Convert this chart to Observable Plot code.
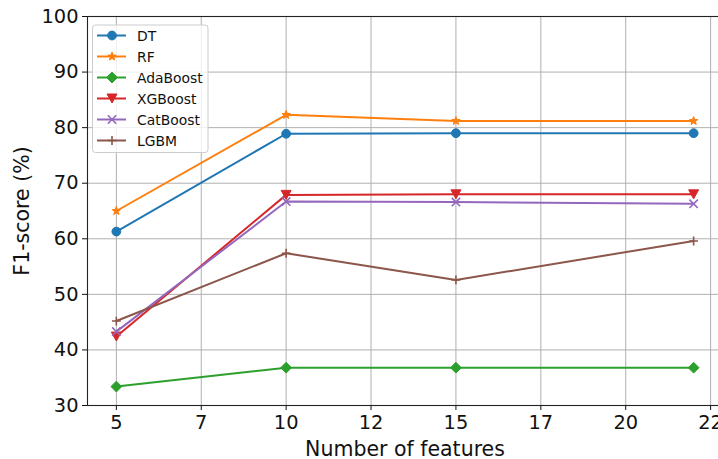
<!DOCTYPE html>
<html>
<head>
<meta charset="utf-8">
<script src="https://cdn.jsdelivr.net/npm/d3@7"></script>
<script src="https://cdn.jsdelivr.net/npm/@observablehq/plot@0.6"></script>
<style>
  html, body { margin: 0; padding: 0; background: #fff; overflow: hidden; }
  #chart svg { display: block; max-width: none !important; height: 459px !important; }
</style>
</head>
<body>
<div id="chart"></div>
<script>
// ---- data ----
const features = [5, 10, 15, 22];
const models = ["DT", "RF", "AdaBoost", "XGBoost", "CatBoost", "LGBM"];
const DT       = [61.3, 78.9, 79.0, 79.0];
const RF       = [65.0, 82.3, 81.2, 81.2];
const AdaBoost = [33.4, 36.8, 36.8, 36.8];
const XGBoost  = [42.4, 67.9, 68.0, 68.0];
const CatBoost = [43.3, 66.7, 66.6, 66.3];
const LGBM     = [45.2, 57.4, 52.6, 59.6];
const xTicks = [5, 7.5, 10, 12.5, 15, 17.5, 20, 22.5];
const yTicks = [30, 40, 50, 60, 70, 80, 90, 100];

// ---- symbols (r = half extent) ----
const sym = (fn) => ({ draw(ctx, size) { fn(ctx, Math.sqrt(size / Math.PI)); } });
const symbols = {
  circle: sym((c, r) => { c.moveTo(r, 0); c.arc(0, 0, r, 0, 2 * Math.PI); c.closePath(); }),
  star: sym((c, r) => {
    const ri = r * 0.42;
    for (let k = 0; k < 10; k++) {
      const a = -Math.PI / 2 + k * Math.PI / 5, rr = k % 2 ? ri : r;
      const px = rr * Math.cos(a), py = rr * Math.sin(a);
      k ? c.lineTo(px, py) : c.moveTo(px, py);
    }
    c.closePath();
  }),
  diamond: sym((c, r) => { c.moveTo(0, -r); c.lineTo(r, 0); c.lineTo(0, r); c.lineTo(-r, 0); c.closePath(); }),
  triDown: sym((c, r) => { c.moveTo(-r, -r * 0.9); c.lineTo(r, -r * 0.9); c.lineTo(0, r * 0.9); c.closePath(); }),
  times: sym((c, r) => { c.moveTo(-r, -r); c.lineTo(r, r); c.moveTo(-r, r); c.lineTo(r, -r); }),
  plus: sym((c, r) => { c.moveTo(-r, 0); c.lineTo(r, 0); c.moveTo(0, -r); c.lineTo(0, r); })
};

const values = {DT, RF, AdaBoost, XGBoost, CatBoost, LGBM};
const colors = ["#1f77b4", "#ff7f0e", "#2ca02c", "#d62728", "#9467bd", "#8c564b"];
const symNames = ["circle", "star", "diamond", "triDown", "times", "plus"];
const radii = [4.4, 4.4, 5.4, 5.0, 4.2, 4.4];
const filled = [true, true, true, true, false, false];

const rows = models.flatMap((m) => features.map((x, i) => ({model: m, x, y: values[m][i]})));

const marks = [
  Plot.gridX(xTicks, {stroke: "#b0b0b0", strokeOpacity: 1, strokeWidth: 1}),
  Plot.gridY(yTicks, {stroke: "#b0b0b0", strokeOpacity: 1, strokeWidth: 1})
];
models.forEach((m, i) => {
  const d = rows.filter((r) => r.model === m);
  marks.push(Plot.line(d, {x: "x", y: "y", stroke: colors[i], strokeWidth: 2}));
  marks.push(Plot.dot(d, {
    x: "x", y: "y", symbol: symbols[symNames[i]], r: radii[i],
    fill: filled[i] ? colors[i] : "none", stroke: colors[i], strokeWidth: filled[i] ? 1 : 1.6
  }));
});
marks.push(
  Plot.axisX(xTicks, {tickSize: 5, tickPadding: 5, fontSize: 19.4, tickFormat: (d) => String(Math.floor(d)), label: null}),
  Plot.axisY(yTicks, {tickSize: 5, tickPadding: 4, fontSize: 19.4, label: null}),
  Plot.axisX({label: "Number of features", labelAnchor: "center", labelArrow: "none", labelOffset: 50,
    ticks: [], tickSize: 0, fontSize: 20.5}),
  Plot.axisY({label: "F1-score (%)", labelAnchor: "center", labelArrow: "none", labelOffset: 73,
    ticks: [], tickSize: 0, fontSize: 20.5}),
  Plot.frame({stroke: "#222", strokeWidth: 1.1})
);

const chart = Plot.plot({
  width: 725, height: 459,
  marginLeft: 87, marginTop: 16, marginBottom: 54, marginRight: 3,
  x: {domain: [4.15, 22.85]},
  y: {domain: [30, 100]},
  style: {fontFamily: "DejaVu Sans", fontSize: "19.4px", color: "#111", background: "#fff"},
  marks
});
document.getElementById("chart").appendChild(chart);

// ---- legend (inside the axes, upper left) ----
const svg = d3.select(chart);
const g = svg.append("g").attr("transform", "translate(92.5,25)").attr("text-anchor", "start");
g.append("rect").attr("width", 115.5).attr("height", 127.5).attr("rx", 3)
  .attr("fill", "#fff").attr("fill-opacity", 0.8).attr("stroke", "#ccc");
models.forEach((m, i) => {
  const cy = 10.5 + i * 21;
  g.append("line").attr("x1", 4.5).attr("x2", 33.5).attr("y1", cy).attr("y2", cy)
    .attr("stroke", colors[i]).attr("stroke-width", 2);
  g.append("path").attr("transform", `translate(19.5,${cy})`)
    .attr("d", d3.symbol(symbols[symNames[i]], Math.PI * radii[i] * radii[i])())
    .attr("fill", filled[i] ? colors[i] : "none").attr("stroke", colors[i])
    .attr("stroke-width", filled[i] ? 1 : 1.6);
  g.append("text").attr("x", 44.5).attr("y", cy).attr("dy", "0.36em")
    .attr("font-family", "DejaVu Sans").attr("font-size", 13.9).attr("fill", "#111").text(m);
});
</script>
</body>
</html>
